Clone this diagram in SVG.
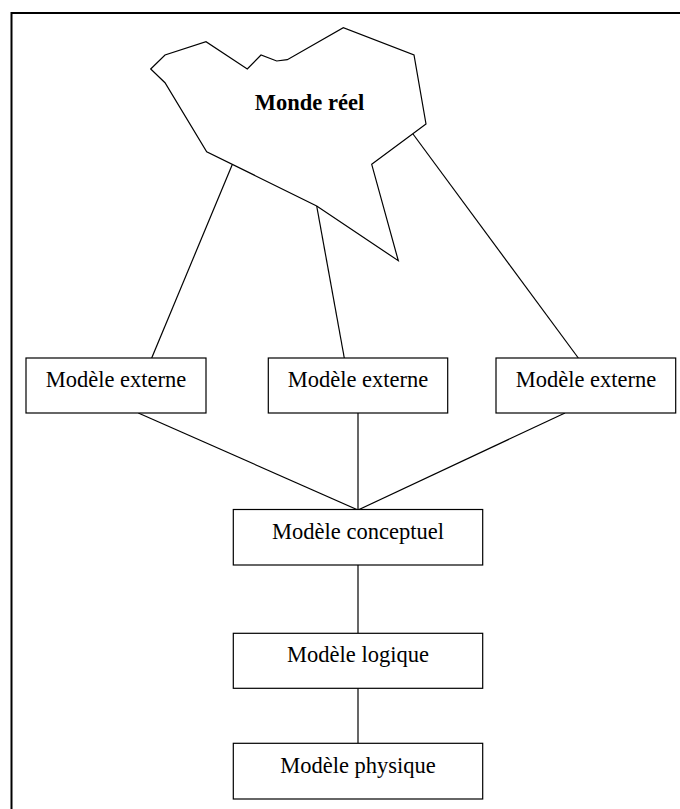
<svg xmlns="http://www.w3.org/2000/svg" width="680" height="809" viewBox="0 0 680 809">
  <style>
    .box { fill: #ffffff; stroke: #000000; stroke-width: 1.2; }
    .ln { stroke: #000000; stroke-width: 1.2; fill: none; }
    .lbl { font-family: "Liberation Serif", "Times New Roman", serif; font-size: 22.5px; fill: #000000; text-anchor: middle; }
    .bold { font-weight: bold; }
  </style>
  <rect x="0" y="0" width="680" height="809" fill="#ffffff"/>
  <path d="M11.5,809 V13 H680" fill="none" stroke="#000000" stroke-width="2"/>
  <g id="connectors">
    <line class="ln" x1="232.3" y1="164.5" x2="151.7" y2="358"/>
    <line class="ln" x1="316.7" y1="206" x2="344.3" y2="358"/>
    <line class="ln" x1="413" y1="134" x2="578.3" y2="358"/>
    <line class="ln" x1="138.3" y1="413" x2="358" y2="510"/>
    <line class="ln" x1="358" y1="413" x2="358" y2="510"/>
    <line class="ln" x1="565" y1="413" x2="358" y2="510"/>
    <line class="ln" x1="358" y1="565" x2="358" y2="633"/>
    <line class="ln" x1="358" y1="688" x2="358" y2="743"/>
  </g>
  <g id="monde-reel">
    <polygon class="box" points="150.7,69 165,55 206,41.7 247.3,69 261,55 276.7,61 287.3,59.7 343.3,27.7 414,55 426,124 371.7,164.3 398.3,260.7 316.7,206 206.7,151.7 165,82.7"/>
    <text class="lbl bold" x="309.5" y="110">Monde réel</text>
  </g>
  <g id="externe-1">
    <rect class="box" x="26" y="358" width="180" height="55"/>
    <text class="lbl" x="116" y="386.7">Modèle externe</text>
  </g>
  <g id="externe-2">
    <rect class="box" x="268.3" y="358" width="179.4" height="55"/>
    <text class="lbl" x="358" y="386.7">Modèle externe</text>
  </g>
  <g id="externe-3">
    <rect class="box" x="496" y="358" width="179.7" height="55"/>
    <text class="lbl" x="586" y="386.7">Modèle externe</text>
  </g>
  <g id="conceptuel">
    <rect class="box" x="233.3" y="509.5" width="249.4" height="55.5"/>
    <text class="lbl" x="358" y="539.3">Modèle conceptuel</text>
  </g>
  <g id="logique">
    <rect class="box" x="233.3" y="633.3" width="249.4" height="55"/>
    <text class="lbl" x="358" y="662.3">Modèle logique</text>
  </g>
  <g id="physique">
    <rect class="box" x="233.3" y="743.3" width="249.4" height="55.7"/>
    <text class="lbl" x="358" y="772.7">Modèle physique</text>
  </g>
</svg>
